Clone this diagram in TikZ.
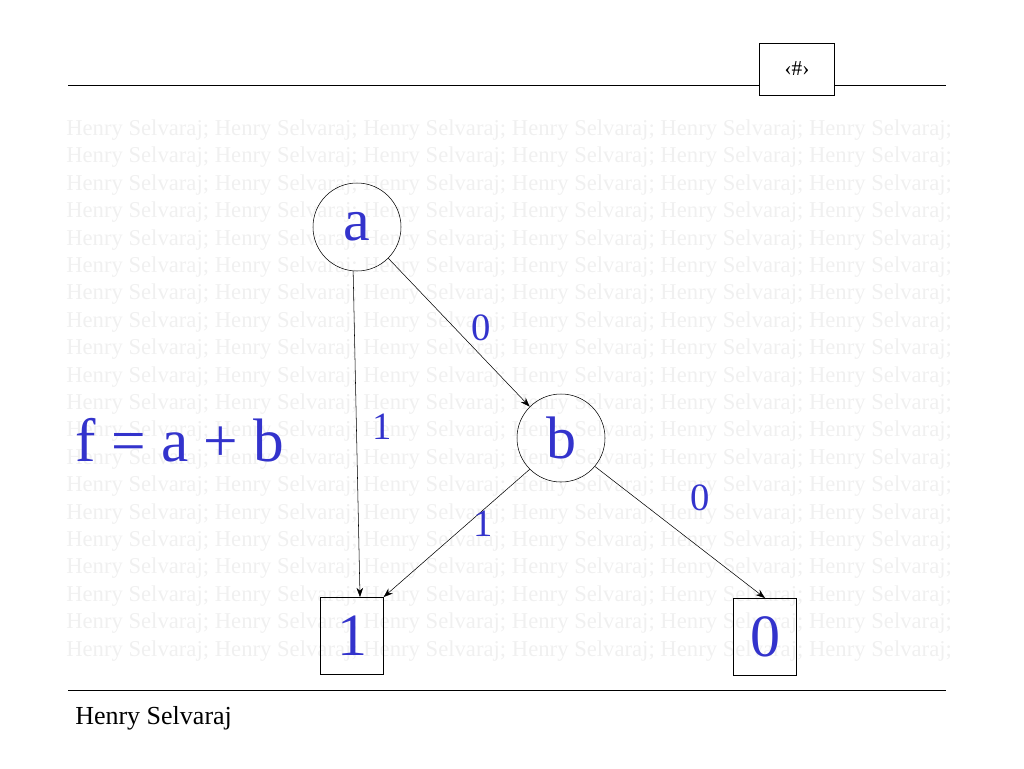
\documentclass[tikz,border=0pt]{standalone}
\usepackage{fontspec}
\setmainfont{Liberation Serif}
\usetikzlibrary{arrows.meta}
\begin{document}
\begin{tikzpicture}[x=0.75pt,y=-0.75pt,
  wm/.style={anchor=west,inner sep=0,text=black!6,font=\fontsize{17}{19}\selectfont},
  bl/.style={text=blue!75!black!80!white},
  circ/.style={draw,circle,minimum size=66pt,inner sep=0,bl,font=\fontsize{45}{50}\selectfont},
  term/.style={draw,minimum width=47pt,minimum height=58pt,inner sep=0,bl,font=\fontsize{45}{50}\selectfont},
  lab/.style={bl,font=\fontsize{29}{32}\selectfont},
  edge/.style={-{Stealth[length=7pt,width=5pt]},thin}]
\useasboundingbox (0,0) rectangle (1024,768);
\foreach \i in {0,...,19}{
  \node[wm] (w\i) at (66,{130+\i*27.4}) {Henry Selvaraj; Henry Selvaraj; Henry Selvaraj; Henry Selvaraj; Henry Selvaraj; Henry Selvaraj;};
}
\draw (68,85) -- (946,85);
\node[draw,fill=white,minimum width=56pt,minimum height=39pt,font=\fontsize{16}{18}\selectfont] (num) at (797,69) {‹\#›};
\draw (68,690) -- (946,690);
\node[anchor=west,inner sep=0,font=\fontsize{19.5}{22}\selectfont] (foot) at (75,718) {Henry Selvaraj};
\node[circ] (a) at (357,227) {a};
\node[circ] (b) at (561,438) {b};
\node[term] (t1) at (352,636) {1};
\node[term] (t0) at (765,637) {0};
\node[bl,font=\fontsize{46}{50}\selectfont] (f) at (180,440) {f = a + b};
\draw[edge] (a.265) -- (t1.north -| 360,0);
\draw[edge] (a.-45) -- (b.135);
\draw[edge] (b.225) -- (t1.north east);
\draw[edge] (b.-40) -- (t0.north);
\node[lab] (l1) at (481,328) {0};
\node[lab] (l2) at (382,427) {1};
\node[lab] (l3) at (483,524) {1};
\node[lab] (l4) at (700,498) {0};
\end{tikzpicture}
\end{document}
